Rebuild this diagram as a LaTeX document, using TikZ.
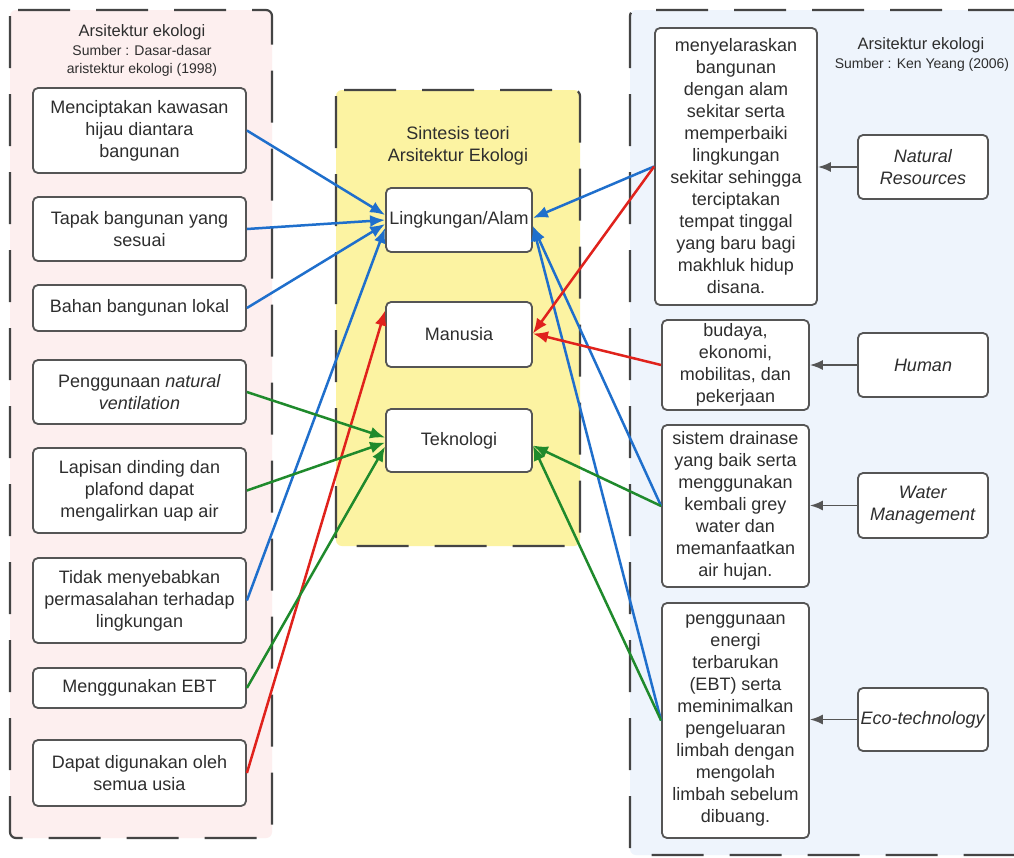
\documentclass[tikz,border=0pt]{standalone}
\usepackage{fontspec}
\setmainfont{Liberation Sans}
\usetikzlibrary{arrows.meta}
\definecolor{pinkbg}{HTML}{FDEFEF}
\definecolor{yellowbg}{HTML}{FCF3A2}
\definecolor{bluebg}{HTML}{EEF4FC}
\definecolor{panelline}{HTML}{444444}
\definecolor{boxline}{HTML}{555555}
\definecolor{txt}{HTML}{2E2E2E}
\definecolor{arblue}{HTML}{1F6FCC}
\definecolor{arred}{HTML}{E0221C}
\definecolor{argreen}{HTML}{1F8A2C}
\definecolor{argray}{HTML}{555555}
\begin{document}
\begin{tikzpicture}[x=1pt,y=-1pt,
  panel/.style={draw=panelline, line width=2.2pt, dash pattern=on 52pt off 26pt, rounded corners=6pt},
  box/.style={draw=boxline, line width=1.8pt, rounded corners=5pt, fill=white, align=center, text=txt, font=\fontsize{18}{22}\selectfont, inner sep=0pt},
  hdr/.style={text=txt, font=\fontsize{16.5}{20}\selectfont, inner sep=0pt},
  src/.style={text=txt, font=\fontsize{14}{18}\selectfont, inner sep=0pt, align=center},
  ttl/.style={text=txt, font=\fontsize{18}{22}\selectfont, inner sep=0pt, align=center},
  bluearr/.style={draw=arblue, line width=2.5pt, -{Latex[length=15pt,width=12pt]}},
  redarr/.style={draw=arred, line width=2.5pt, -{Latex[length=15pt,width=12pt]}},
  greenarr/.style={draw=argreen, line width=2.5pt, -{Latex[length=15pt,width=12pt]}},
  grayarr/.style={draw=argray, line width=1.8pt, -{Latex[length=13pt,width=10pt]}}
]
\clip (0,0) rectangle (1014,857);
\fill[white] (0,0) rectangle (1014,857);
% panels
\draw[panel, fill=pinkbg] (10,10) rectangle (272,838);
\draw[panel, fill=yellowbg] (336,90) rectangle (580,546);
\draw[panel, fill=bluebg] (630,10) rectangle (1040,855);
% headers
\node[hdr] (lh) at (142,32) {Arsitektur ekologi};
\node[src] (ls) at (142,61) {Sumber : Dasar-dasar\\aristektur ekologi (1998)};
\node[ttl] (mt) at (458,146) {Sintesis teori\\Arsitektur Ekologi};
\node[hdr] (rh) at (921,45) {Arsitektur ekologi};
\node[src] (rs) at (922,65) {Sumber : Ken Yeang (2006)};
% left boxes
\node[box, minimum width=213pt, minimum height=85pt] (l1) at (139.5,130.5) {Menciptakan kawasan\\hijau diantara\\bangunan};
\node[box, minimum width=213pt, minimum height=64pt] (l2) at (139.5,229) {Tapak bangunan yang\\sesuai};
\node[box, minimum width=213pt, minimum height=46pt] (l3) at (139.5,308) {Bahan bangunan lokal};
\node[box, minimum width=213pt, minimum height=64pt] (l4) at (139.5,392) {Penggunaan \textit{natural}\\\textit{ventilation}};
\node[box, minimum width=213pt, minimum height=85pt] (l5) at (139.5,490.5) {Lapisan dinding dan\\plafond dapat\\mengalirkan uap air};
\node[box, minimum width=213pt, minimum height=85pt] (l6) at (139.5,600.5) {Tidak menyebabkan\\permasalahan terhadap\\lingkungan};
\node[box, minimum width=213pt, minimum height=40pt] (l7) at (139.5,688) {Menggunakan EBT};
\node[box, minimum width=213pt, minimum height=66pt] (l8) at (139.5,773) {Dapat digunakan oleh\\semua usia};
% middle boxes
\node[box, minimum width=146pt, minimum height=64pt] (lk) at (459,220) {Lingkungan/Alam};
\node[box, minimum width=146pt, minimum height=65pt] (man) at (459,334.5) {Manusia};
\node[box, minimum width=146pt, minimum height=63pt] (tek) at (459,440.5) {Teknologi};
% right tall boxes
\node[box, minimum width=162pt, minimum height=277pt] (r1) at (736,166.5) {menyelaraskan\\bangunan\\dengan alam\\sekitar serta\\memperbaiki\\lingkungan\\sekitar sehingga\\terciptakan\\tempat tinggal\\yang baru bagi\\makhluk hidup\\disana.};
\node[box, minimum width=147pt, minimum height=90pt] (r2) at (735.5,365) {budaya,\\ekonomi,\\mobilitas, dan\\pekerjaan};
\node[box, minimum width=147pt, minimum height=162pt] (r3) at (735.5,506) {sistem drainase\\yang baik serta\\menggunakan\\kembali grey\\water dan\\memanfaatkan\\air hujan.};
\node[box, minimum width=147pt, minimum height=235pt] (r4) at (735.5,720.5) {penggunaan\\energi\\terbarukan\\(EBT) serta\\meminimalkan\\pengeluaran\\limbah dengan\\mengolah\\limbah sebelum\\dibuang.};
% right small boxes
\node[box, minimum width=130pt, minimum height=64pt] (nr) at (923,167) {\textit{Natural}\\\textit{Resources}};
\node[box, minimum width=130pt, minimum height=64pt] (hu) at (923,365) {\textit{Human}};
\node[box, minimum width=130pt, minimum height=65pt] (wm) at (923,505.5) {\textit{Water}\\\textit{Management}};
\node[box, minimum width=130pt, minimum height=63pt] (et) at (923,719.5) {\textit{Eco-technology}};
% gray arrows
\draw[grayarr] (nr.west) -- (nr.west -| r1.east);
\draw[grayarr] (hu.west) -- (hu.west -| r2.east);
\draw[grayarr] (wm.west) -- (wm.west -| r3.east);
\draw[grayarr] (et.west) -- (et.west -| r4.east);
% blue
\draw[bluearr] (l1.east) -- ([yshift=5pt]lk.west);
\draw[bluearr] (l2.east) -- (lk.west);
\draw[bluearr] (l3.east) -- ([yshift=-4pt]lk.west);
\draw[bluearr] (l6.east) -- ([yshift=-8pt]lk.west);
\draw[bluearr] (r1.west) -- ([yshift=2pt]lk.east);
\draw[bluearr] (r3.west) -- ([yshift=-6pt]lk.east);
\draw[bluearr] (r4.west) -- ([yshift=-6pt]lk.east);
% red
\draw[redarr] (l8.east) -- ([yshift=24pt]man.west);
\draw[redarr] (r1.west) -- ([yshift=1pt]man.east);
\draw[redarr] (r2.west) -- ([yshift=1pt]man.east);
% green
\draw[greenarr] (l4.east) -- ([yshift=3pt]tek.west);
\draw[greenarr] (l5.east) -- ([yshift=-2pt]tek.west);
\draw[greenarr] (l7.east) -- ([yshift=-6pt]tek.west);
\draw[greenarr] (r3.west) -- ([yshift=-5pt]tek.east);
\draw[greenarr] (r4.west) -- ([yshift=-5pt]tek.east);
\end{tikzpicture}
\end{document}
